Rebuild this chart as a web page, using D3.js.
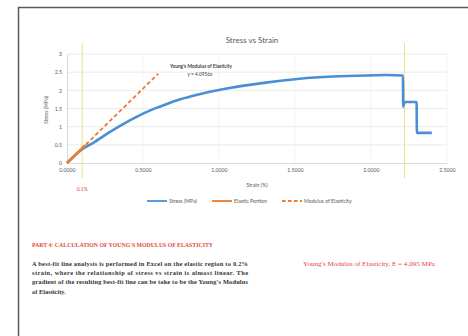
<!DOCTYPE html>
<html>
<head>
<meta charset="utf-8">
<script src="https://cdn.jsdelivr.net/npm/d3@7"></script>
<style>
  html, body { margin: 0; padding: 0; background: #fff; }
  svg { display: block; }
</style>
</head>
<body>
<svg id="page" width="468" height="336"></svg>
<script>
// Stress–strain record (strain in %, stress in MPa)
const strain = [0, 0.05, 0.1, 0.17, 0.28, 0.39, 0.5, 0.61, 0.72, 0.83, 0.94, 1.05, 1.2, 1.32, 1.53, 1.75, 1.97, 2.1, 2.21, 2.212, 2.222, 2.3, 2.302, 2.4];
const stress = [0, 0.2, 0.38, 0.55, 0.85, 1.12, 1.36, 1.55, 1.72, 1.85, 1.96, 2.05, 2.15, 2.22, 2.32, 2.38, 2.41, 2.42, 2.41, 1.55, 1.68, 1.68, 0.83, 0.83];

// Elastic portion of the test
const elasticStrain = [0, 0.03, 0.06, 0.09, 0.12];
const elasticStress = [0, 0.12, 0.245, 0.37, 0.49];

// Best-fit modulus line y = 4.0956x
const slope = 4.0956;
const fitStrain = [0, 0.6];

// Reference strain markers
const markerStrain = [0.1, 2.22];

const xTicks = [0, 0.5, 1, 1.5, 2, 2.5];
const yTicks = [0, 0.5, 1, 1.5, 2, 2.5, 3];
const legendLabels = ["Stress (MPa)", "Elastic Portion", "Modulus of Elasticity"];

const svg = d3.select("#page");
const sans = "Lato, 'Open Sans', sans-serif";
const serif = "'Liberation Serif', 'DejaVu Serif', serif";
const blue = "#4a8fd6", orange = "#ef7a2c", red = "#e5493a";

// page frame
svg.append("path").attr("d", "M18.5,336 V7.5 H468").attr("fill", "none")
  .attr("stroke", "#5a5a5a").attr("stroke-width", 1.5);

const x = d3.scaleLinear().domain([0, 2.5]).range([67, 447]);
const y = d3.scaleLinear().domain([0, 3]).range([163, 54]);

// grid
svg.append("g").selectAll("line").data(yTicks.slice(1)).join("line")
  .attr("x1", x(0)).attr("x2", x(2.5)).attr("y1", d => y(d)).attr("y2", d => y(d))
  .attr("stroke", "#e4e4e4").attr("stroke-width", 0.8);
svg.append("g").selectAll("line").data(xTicks.slice(1)).join("line")
  .attr("x1", d => x(d)).attr("x2", d => x(d)).attr("y1", y(0)).attr("y2", y(3))
  .attr("stroke", "#f0f0f0").attr("stroke-width", 0.8);

// axes
const xAxis = svg.append("g").attr("transform", `translate(0,${y(0)})`)
  .call(d3.axisBottom(x).tickValues(xTicks).tickFormat(d3.format(".4f")).tickSize(0).tickPadding(5));
const yAxis = svg.append("g").attr("transform", `translate(${x(0)},0)`)
  .call(d3.axisLeft(y).tickValues(yTicks).tickFormat(d => d).tickSize(0).tickPadding(5));
[xAxis, yAxis].forEach(g => {
  g.select(".domain").attr("stroke", "#cfcfcf").attr("stroke-width", 0.8);
  g.selectAll("text").attr("font-family", sans).attr("font-size", 5.2).attr("fill", "#595959");
});

// strain markers
svg.append("g").selectAll("line").data(markerStrain).join("line")
  .attr("x1", d => x(d)).attr("x2", d => x(d)).attr("y1", y(3.3)).attr("y2", y(-0.42))
  .attr("stroke", "#e6e48a").attr("stroke-width", 1);

// series
const line = d3.line().x(d => x(d[0])).y(d => y(d[1]));
svg.append("path").datum(d3.zip(strain, stress)).attr("d", line.curve(d3.curveMonotoneX))
  .attr("fill", "none").attr("stroke", blue).attr("stroke-width", 2.6).attr("stroke-linejoin", "miter");
line.curve(d3.curveLinear);
svg.append("path").datum(d3.zip(elasticStrain, elasticStress)).attr("d", line)
  .attr("fill", "none").attr("stroke", orange).attr("stroke-width", 2.6);
svg.append("path").datum(fitStrain.map(s => [s, slope * s])).attr("d", line)
  .attr("fill", "none").attr("stroke", orange).attr("stroke-width", 1.8).attr("stroke-dasharray", "4,2.6");

// title, axis titles, annotations
svg.append("text").attr("x", 252).attr("y", 43).attr("text-anchor", "middle")
  .attr("font-family", sans).attr("font-size", 8).attr("fill", "#595959").text("Stress vs Strain");
svg.append("text").attr("x", 257).attr("y", 187).attr("text-anchor", "middle")
  .attr("font-family", sans).attr("font-size", 5.2).attr("fill", "#595959").text("Strain (%)");
svg.append("text").attr("transform", "translate(48,110) rotate(-90)").attr("text-anchor", "middle")
  .attr("font-family", sans).attr("font-size", 5.2).attr("fill", "#595959").text("Stress (MPa)");
svg.append("text").attr("x", 201).attr("y", 68).attr("text-anchor", "middle")
  .attr("font-family", sans).attr("font-size", 4.8).attr("font-weight", 700).attr("fill", "#404040")
  .text("Young's Modulus of Elasticity");
svg.append("text").attr("x", 200).attr("y", 76).attr("text-anchor", "middle")
  .attr("font-family", sans).attr("font-size", 4.8).attr("fill", "#404040").text("y = 4.0956x");
svg.append("text").attr("x", x(0.1)).attr("y", 191).attr("text-anchor", "middle")
  .attr("font-family", sans).attr("font-size", 5).attr("fill", red).text("0.1%");

// legend
const legend = svg.append("g").attr("font-family", sans).attr("font-size", 5.2).attr("fill", "#595959");
const legX = [147, 212, 282];
const legStyle = [[blue, null], [orange, null], [orange, "3.5,2.5"]];
legendLabels.forEach((lab, i) => {
  legend.append("line").attr("x1", legX[i]).attr("x2", legX[i] + 20).attr("y1", 201).attr("y2", 201)
    .attr("stroke", legStyle[i][0]).attr("stroke-width", 1.8).attr("stroke-dasharray", legStyle[i][1]);
  legend.append("text").attr("x", legX[i] + 22).attr("y", 202.8).text(lab);
});

// section text
svg.append("text").attr("x", 32).attr("y", 247).attr("font-family", serif).attr("font-size", 5.8)
  .attr("font-weight", 700).attr("fill", red).attr("textLength", 181).attr("lengthAdjust", "spacingAndGlyphs")
  .text("PART 4: CALCULATION OF YOUNG'S MODULUS OF ELASTICITY");
const para = [
  "A best-fit line analysis is performed in Excel on the elastic region to 0.2%",
  "strain, where the relationship of stress vs strain is almost linear. The",
  "gradient of the resulting best-fit line can be take to be the Young's Modulus",
  "of Elasticity."
];
para.forEach((t, i) => {
  const tx = svg.append("text").attr("x", 32).attr("y", 266 + i * 9.2).attr("font-family", serif)
    .attr("font-size", 6.4).attr("font-weight", 700).attr("fill", "#333").text(t);
  if (i < para.length - 1) tx.attr("textLength", 216).attr("lengthAdjust", "spacing");
});
svg.append("text").attr("x", 303).attr("y", 266).attr("font-family", serif).attr("font-size", 6.8)
  .attr("fill", red).attr("textLength", 132).attr("lengthAdjust", "spacingAndGlyphs")
  .text("Young's Modulus of Elasticity, E = 4.095 MPa");
</script>
</body>
</html>
